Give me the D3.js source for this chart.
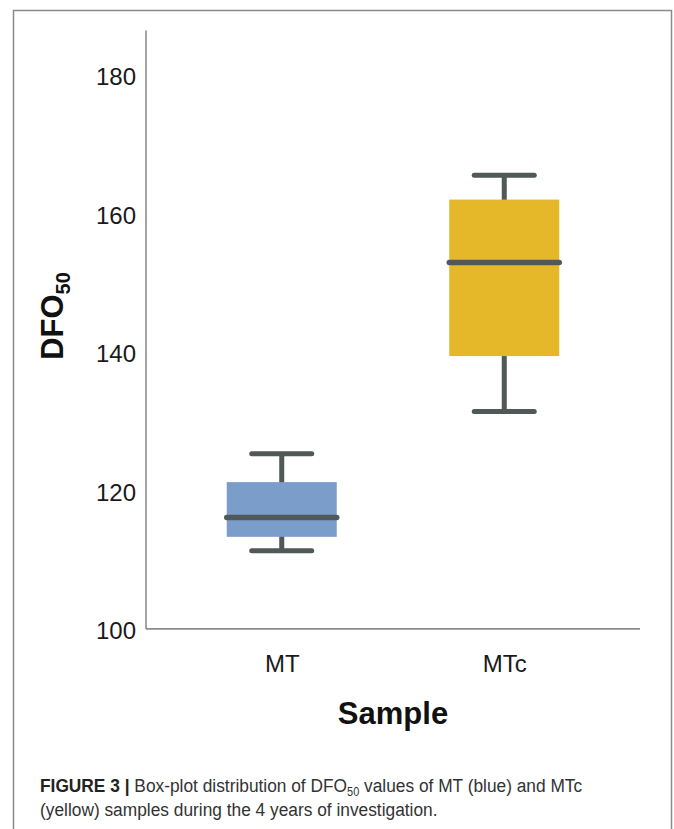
<!DOCTYPE html>
<html><head><meta charset="utf-8">
<script src="https://cdn.jsdelivr.net/npm/d3@7/dist/d3.min.js"></script>
<style>body{margin:0;background:#fff}svg{display:block}</style>
</head><body>
<svg id="c" width="674" height="829"></svg>
<script>
const categories = ["MT", "MTc"];
const whiskerLow = [111.6, 131.7];
const q1 = [113.6, 139.7];
const median = [116.4, 153.2];
const q3 = [121.5, 162.3];
const whiskerHigh = [125.6, 165.8];
const fills = ["#7b9dca", "#e5b829"];
const yTicks = [100, 120, 140, 160, 180];

const svg = d3.select("#c");
const font = "'Liberation Sans', Arial, Helvetica, sans-serif";

// frame
svg.append("rect").attr("x", 13.5).attr("y", 10.5).attr("width", 658).attr("height", 830)
  .attr("fill", "none").attr("stroke", "#8a8a8a").attr("stroke-width", 1.5);

const y = d3.scaleLinear().domain([100, 180]).range([631, 77]);
const x = d3.scalePoint().domain(categories).range([146, 640]).padding(0.61);

// axis lines
const axisColor = "#8c8c8c";
svg.append("line").attr("x1", 146).attr("x2", 146).attr("y1", y(186.7)).attr("y2", y(100.3))
  .attr("stroke", axisColor).attr("stroke-width", 1.6);
svg.append("line").attr("x1", 146).attr("x2", 640).attr("y1", y(100.3)).attr("y2", y(100.3))
  .attr("stroke", axisColor).attr("stroke-width", 1.6);

// y ticks
const yAxis = d3.axisLeft(y).tickValues(yTicks).tickSize(0).tickPadding(10);
const gy = svg.append("g").attr("transform", "translate(146,0)").call(yAxis);
gy.select(".domain").remove();
gy.selectAll("text").attr("font-family", font).attr("font-size", 24).attr("fill", "#1a1a1a");

// x ticks
const xAxis = d3.axisBottom(x).tickSize(0).tickPadding(26);
const gx = svg.append("g").attr("transform", `translate(0,${y(100.3)})`).call(xAxis);
gx.select(".domain").remove();
gx.selectAll("text").attr("font-family", font).attr("font-size", 24).attr("fill", "#1a1a1a");

// boxes
const boxW = 110, capW = 60, lineColor = "#505858";
const data = categories.map((c, i) => ({c, lo: whiskerLow[i], q1: q1[i], med: median[i], q3: q3[i], hi: whiskerHigh[i], fill: fills[i]}));
const g = svg.append("g");
const b = g.selectAll("g.box").data(data).join("g").attr("class", "box");
b.append("line").attr("x1", d => x(d.c)).attr("x2", d => x(d.c))
  .attr("y1", d => y(d.hi)).attr("y2", d => y(d.lo))
  .attr("stroke", lineColor).attr("stroke-width", 5);
b.append("rect").attr("x", d => x(d.c) - boxW / 2).attr("width", boxW)
  .attr("y", d => y(d.q3)).attr("height", d => y(d.q1) - y(d.q3))
  .attr("fill", d => d.fill);
b.append("line").attr("x1", d => x(d.c) - boxW / 2).attr("x2", d => x(d.c) + boxW / 2)
  .attr("y1", d => y(d.med)).attr("y2", d => y(d.med))
  .attr("stroke", lineColor).attr("stroke-width", 5.5).attr("stroke-linecap", "round");
["hi", "lo"].forEach(k => {
  b.append("line").attr("x1", d => x(d.c) - capW / 2).attr("x2", d => x(d.c) + capW / 2)
    .attr("y1", d => y(d[k])).attr("y2", d => y(d[k]))
    .attr("stroke", lineColor).attr("stroke-width", 5).attr("stroke-linecap", "round");
});

// axis titles
svg.append("text").attr("x", 393).attr("y", 724).attr("text-anchor", "middle")
  .attr("font-family", font).attr("font-weight", "bold").attr("font-size", 31).attr("fill", "#111")
  .text("Sample");
const yt = svg.append("text").attr("transform", "translate(63,316) rotate(-90)")
  .attr("text-anchor", "middle").attr("font-family", font).attr("font-weight", "bold")
  .attr("font-size", 31).attr("fill", "#111");
yt.append("tspan").text("DFO");
yt.append("tspan").attr("font-size", 20).attr("dy", 7).text("50");

// caption (condensed horizontally)
const cap = svg.append("g").attr("transform", "translate(40,0) scale(0.912,1)")
  .attr("font-family", font).attr("fill", "#333");
const l1 = cap.append("text").attr("x", 0).attr("y", 792).attr("font-size", 19);
l1.append("tspan").attr("font-weight", "bold").attr("fill", "#222").text("FIGURE 3 | ");
l1.append("tspan").text("Box-plot distribution of DFO");
l1.append("tspan").attr("font-size", 12).attr("dy", 4).text("50");
l1.append("tspan").attr("dy", -4).text(" values of MT (blue) and MTc");
cap.append("text").attr("x", 0).attr("y", 816).attr("font-size", 19)
  .text("(yellow) samples during the 4 years of investigation.");
</script>
</body></html>
